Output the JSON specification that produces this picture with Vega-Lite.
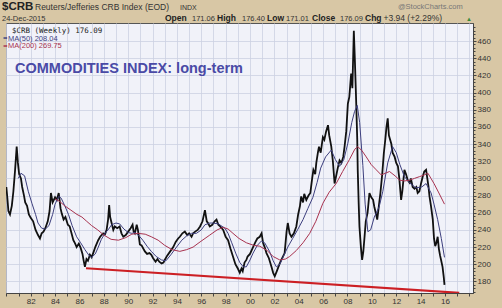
{
  "$schema": "https://vega.github.io/schema/vega-lite/v6.json",
  "width": 467,
  "height": 270,
  "autosize": {"type": "none"},
  "padding": {"left": 6, "top": 23, "right": 29, "bottom": 15},
  "background": "#d8c7a5",
  "view": {"fill": "#f1f2f9", "stroke": "#555555", "strokeWidth": 1},
  "data": {"values": [{}]},
  "config": {
    "font": "Liberation Sans",
    "axis": {"labelFont": "Liberation Sans", "labelColor": "#333333", "labelFontSize": 8, "labelOverlap": false, "tickCount": 200, "domainColor": "#444444", "tickColor": "#444444", "gridColor": "#cdd1e2", "gridWidth": 0.8, "title": null}
  },
  "datasets": {
    "price": [
      {"year":1980.00,"close":290},{"year":1980.08,"close":278},{"year":1980.17,"close":262},{"year":1980.30,"close":258},{"year":1980.45,"close":268},{"year":1980.58,"close":285},{"year":1980.72,"close":310},{"year":1980.85,"close":337},{"year":1980.95,"close":318},
      {"year":1981.05,"close":305},{"year":1981.20,"close":300},{"year":1981.30,"close":290},{"year":1981.45,"close":280},{"year":1981.55,"close":272},{"year":1981.70,"close":268},{"year":1981.85,"close":258},
      {"year":1982.00,"close":254},{"year":1982.20,"close":250},{"year":1982.40,"close":240},{"year":1982.60,"close":234},{"year":1982.76,"close":230},{"year":1982.90,"close":236},
      {"year":1983.05,"close":238},{"year":1983.20,"close":242},{"year":1983.40,"close":250},{"year":1983.55,"close":262},{"year":1983.66,"close":283},{"year":1983.80,"close":272},
      {"year":1984.00,"close":278},{"year":1984.15,"close":275},{"year":1984.30,"close":283},{"year":1984.45,"close":265},{"year":1984.55,"close":259},{"year":1984.70,"close":252},{"year":1984.85,"close":255},
      {"year":1985.05,"close":246},{"year":1985.20,"close":244},{"year":1985.35,"close":236},{"year":1985.50,"close":228},{"year":1985.65,"close":224},{"year":1985.77,"close":220},{"year":1985.95,"close":224},
      {"year":1986.10,"close":219},{"year":1986.25,"close":212},{"year":1986.35,"close":204},{"year":1986.45,"close":197},{"year":1986.58,"close":206},{"year":1986.70,"close":204},{"year":1986.86,"close":211},
      {"year":1987.00,"close":208},{"year":1987.13,"close":213},{"year":1987.30,"close":220},{"year":1987.54,"close":228},{"year":1987.70,"close":232},{"year":1987.95,"close":236},
      {"year":1988.10,"close":235},{"year":1988.23,"close":240},{"year":1988.35,"close":252},{"year":1988.44,"close":269},{"year":1988.52,"close":255},{"year":1988.64,"close":248},{"year":1988.78,"close":240},{"year":1988.90,"close":244},
      {"year":1989.10,"close":242},{"year":1989.30,"close":244},{"year":1989.45,"close":236},{"year":1989.60,"close":232},{"year":1989.80,"close":234},
      {"year":1990.00,"close":238},{"year":1990.20,"close":242},{"year":1990.36,"close":246},{"year":1990.45,"close":238},{"year":1990.55,"close":236},{"year":1990.70,"close":246},{"year":1990.80,"close":240},{"year":1990.96,"close":223},
      {"year":1991.10,"close":222},{"year":1991.25,"close":218},{"year":1991.37,"close":215},{"year":1991.55,"close":212},{"year":1991.75,"close":213},{"year":1991.90,"close":211},
      {"year":1992.05,"close":207},{"year":1992.25,"close":203},{"year":1992.40,"close":206},{"year":1992.55,"close":203},{"year":1992.74,"close":201},{"year":1992.90,"close":202},
      {"year":1993.00,"close":205},{"year":1993.20,"close":210},{"year":1993.45,"close":215},{"year":1993.70,"close":220},{"year":1993.90,"close":226},
      {"year":1994.10,"close":230},{"year":1994.24,"close":232},{"year":1994.45,"close":236},{"year":1994.65,"close":238},{"year":1994.85,"close":234},
      {"year":1995.00,"close":236},{"year":1995.20,"close":232},{"year":1995.33,"close":236},{"year":1995.50,"close":238},{"year":1995.70,"close":240},{"year":1995.90,"close":244},
      {"year":1996.10,"close":250},{"year":1996.30,"close":263},{"year":1996.45,"close":250},{"year":1996.55,"close":248},{"year":1996.70,"close":244},{"year":1996.90,"close":246},
      {"year":1997.10,"close":250},{"year":1997.25,"close":252},{"year":1997.40,"close":246},{"year":1997.55,"close":244},{"year":1997.80,"close":240},
      {"year":1998.00,"close":232},{"year":1998.20,"close":228},{"year":1998.40,"close":218},{"year":1998.60,"close":209},{"year":1998.80,"close":200},
      {"year":1999.00,"close":195},{"year":1999.16,"close":190},{"year":1999.30,"close":195},{"year":1999.40,"close":192},{"year":1999.55,"close":202},{"year":1999.70,"close":205},{"year":1999.80,"close":209},
      {"year":2000.00,"close":212},{"year":2000.25,"close":220},{"year":2000.45,"close":226},{"year":2000.60,"close":230},{"year":2000.80,"close":232},{"year":2000.95,"close":236},
      {"year":2001.07,"close":225},{"year":2001.20,"close":220},{"year":2001.35,"close":213},{"year":2001.55,"close":207},{"year":2001.76,"close":197},{"year":2001.90,"close":190},
      {"year":2002.03,"close":186},{"year":2002.20,"close":192},{"year":2002.44,"close":201},{"year":2002.60,"close":206},{"year":2002.84,"close":213},
      {"year":2003.00,"close":238},{"year":2003.10,"close":248},{"year":2003.25,"close":236},{"year":2003.40,"close":232},{"year":2003.60,"close":236},{"year":2003.80,"close":244},{"year":2003.95,"close":258},
      {"year":2004.10,"close":268},{"year":2004.20,"close":279},{"year":2004.35,"close":272},{"year":2004.45,"close":282},{"year":2004.62,"close":275},{"year":2004.80,"close":280},{"year":2004.95,"close":283},
      {"year":2005.10,"close":300},{"year":2005.20,"close":310},{"year":2005.35,"close":305},{"year":2005.44,"close":318},{"year":2005.57,"close":330},{"year":2005.66,"close":337},{"year":2005.80,"close":330},{"year":2005.98,"close":348},
      {"year":2006.10,"close":345},{"year":2006.25,"close":355},{"year":2006.40,"close":362},{"year":2006.50,"close":350},{"year":2006.67,"close":337},{"year":2006.80,"close":320},{"year":2006.94,"close":294},
      {"year":2007.10,"close":305},{"year":2007.20,"close":312},{"year":2007.35,"close":321},{"year":2007.50,"close":318},{"year":2007.65,"close":325},{"year":2007.76,"close":337},{"year":2007.90,"close":355},
      {"year":2008.03,"close":387},{"year":2008.15,"close":395},{"year":2008.30,"close":422},{"year":2008.40,"close":405},{"year":2008.52,"close":472},{"year":2008.60,"close":440},{"year":2008.70,"close":395},{"year":2008.80,"close":345},{"year":2008.84,"close":310},{"year":2008.92,"close":270},{"year":2008.98,"close":244},
      {"year":2009.10,"close":220},{"year":2009.20,"close":205},{"year":2009.30,"close":215},{"year":2009.40,"close":232},{"year":2009.50,"close":250},{"year":2009.65,"close":260},{"year":2009.80,"close":283},{"year":2009.95,"close":278},
      {"year":2010.10,"close":275},{"year":2010.20,"close":267},{"year":2010.35,"close":258},{"year":2010.44,"close":252},{"year":2010.55,"close":265},{"year":2010.70,"close":283},{"year":2010.85,"close":305},{"year":2010.98,"close":329},
      {"year":2011.10,"close":345},{"year":2011.20,"close":360},{"year":2011.30,"close":370},{"year":2011.40,"close":350},{"year":2011.50,"close":345},{"year":2011.60,"close":340},{"year":2011.70,"close":330},{"year":2011.87,"close":325},
      {"year":2012.00,"close":318},{"year":2012.14,"close":314},{"year":2012.25,"close":300},{"year":2012.40,"close":275},{"year":2012.50,"close":285},{"year":2012.67,"close":310},{"year":2012.80,"close":305},{"year":2012.94,"close":298},
      {"year":2013.10,"close":295},{"year":2013.20,"close":300},{"year":2013.35,"close":290},{"year":2013.50,"close":288},{"year":2013.65,"close":290},{"year":2013.76,"close":283},{"year":2013.90,"close":285},
      {"year":2014.05,"close":295},{"year":2014.17,"close":302},{"year":2014.30,"close":308},{"year":2014.45,"close":310},{"year":2014.55,"close":300},{"year":2014.65,"close":290},{"year":2014.73,"close":279},{"year":2014.85,"close":268},
      {"year":2015.00,"close":252},{"year":2015.10,"close":230},{"year":2015.20,"close":221},{"year":2015.30,"close":225},{"year":2015.40,"close":232},{"year":2015.50,"close":218},{"year":2015.60,"close":210},{"year":2015.68,"close":205},{"year":2015.80,"close":197},{"year":2015.90,"close":185},{"year":2015.96,"close":176}
    ],
    "ma50": [
      {"year":1980.98,"ma":300},{"year":1981.20,"ma":306},{"year":1981.50,"ma":303},{"year":1981.80,"ma":285},{"year":1982.10,"ma":271},{"year":1982.40,"ma":258},{"year":1982.60,"ma":248},{"year":1982.90,"ma":242},
      {"year":1983.20,"ma":241},{"year":1983.50,"ma":245},{"year":1983.80,"ma":258},{"year":1984.00,"ma":270},{"year":1984.30,"ma":279},{"year":1984.50,"ma":277},{"year":1984.80,"ma":268},
      {"year":1985.10,"ma":258},{"year":1985.40,"ma":245},{"year":1985.77,"ma":232},{"year":1986.10,"ma":225},{"year":1986.45,"ma":217},{"year":1986.80,"ma":210},{"year":1987.00,"ma":208},
      {"year":1987.30,"ma":212},{"year":1987.55,"ma":220},{"year":1987.80,"ma":229},{"year":1988.10,"ma":236},{"year":1988.40,"ma":241},{"year":1988.64,"ma":246},{"year":1989.00,"ma":248},
      {"year":1989.30,"ma":247},{"year":1989.65,"ma":241},{"year":1990.00,"ma":237},{"year":1990.30,"ma":236},{"year":1990.55,"ma":237},{"year":1990.90,"ma":233},{"year":1991.20,"ma":228},
      {"year":1991.55,"ma":221},{"year":1991.90,"ma":215},{"year":1992.30,"ma":209},{"year":1992.74,"ma":205},{"year":1993.10,"ma":204},{"year":1993.50,"ma":211},{"year":1993.97,"ma":220},
      {"year":1994.40,"ma":228},{"year":1994.80,"ma":233},{"year":1995.20,"ma":236},{"year":1995.60,"ma":236},{"year":1996.00,"ma":240},{"year":1996.30,"ma":246},{"year":1996.70,"ma":248},
      {"year":1996.97,"ma":248},{"year":1997.40,"ma":247},{"year":1997.93,"ma":242},{"year":1998.20,"ma":236},{"year":1998.50,"ma":225},{"year":1998.85,"ma":212},{"year":1999.16,"ma":202},
      {"year":1999.45,"ma":197},{"year":1999.70,"ma":197},{"year":2000.00,"ma":205},{"year":2000.25,"ma":213},{"year":2000.60,"ma":222},{"year":2000.93,"ma":227},{"year":2001.20,"ma":225},
      {"year":2001.60,"ma":215},{"year":2001.90,"ma":204},{"year":2002.16,"ma":197},{"year":2002.45,"ma":200},{"year":2002.70,"ma":208},{"year":2003.10,"ma":220},{"year":2003.50,"ma":230},
      {"year":2003.90,"ma":240},{"year":2004.35,"ma":252},{"year":2004.75,"ma":265},{"year":2005.16,"ma":278},{"year":2005.50,"ma":295},{"year":2005.80,"ma":312},{"year":2006.20,"ma":325},
      {"year":2006.67,"ma":333},{"year":2007.00,"ma":322},{"year":2007.35,"ma":314},{"year":2007.70,"ma":322},{"year":2008.03,"ma":341},{"year":2008.35,"ma":365},{"year":2008.58,"ma":378},
      {"year":2008.80,"ma":385},{"year":2009.00,"ma":365},{"year":2009.26,"ma":315},{"year":2009.45,"ma":270},{"year":2009.67,"ma":238},{"year":2009.90,"ma":240},{"year":2010.20,"ma":255},
      {"year":2010.60,"ma":267},{"year":2010.90,"ma":285},{"year":2011.30,"ma":318},{"year":2011.70,"ma":337},{"year":2012.00,"ma":330},{"year":2012.30,"ma":316},{"year":2012.67,"ma":302},
      {"year":2013.10,"ma":295},{"year":2013.60,"ma":289},{"year":2014.10,"ma":290},{"year":2014.45,"ma":294},{"year":2014.86,"ma":283},{"year":2015.10,"ma":270},{"year":2015.40,"ma":252},
      {"year":2015.70,"ma":230},{"year":2015.96,"ma":208}
    ],
    "ma200": [
      {"year":1984.00,"ma":276},{"year":1984.30,"ma":274},{"year":1984.80,"ma":268},{"year":1985.30,"ma":263},{"year":1985.80,"ma":258},{"year":1986.20,"ma":255},{"year":1986.60,"ma":250},
      {"year":1987.00,"ma":245},{"year":1987.50,"ma":240},{"year":1988.00,"ma":234},{"year":1988.60,"ma":229},{"year":1989.20,"ma":228},{"year":1989.80,"ma":231},{"year":1990.30,"ma":235},
      {"year":1990.80,"ma":236},{"year":1991.40,"ma":235},{"year":1991.90,"ma":232},{"year":1992.46,"ma":228},{"year":1993.00,"ma":222},{"year":1993.60,"ma":217},{"year":1994.24,"ma":215},
      {"year":1994.80,"ma":217},{"year":1995.33,"ma":220},{"year":1995.90,"ma":226},{"year":1996.70,"ma":234},{"year":1997.30,"ma":240},{"year":1997.80,"ma":243},{"year":1998.20,"ma":241},
      {"year":1998.60,"ma":236},{"year":1999.10,"ma":230},{"year":1999.70,"ma":225},{"year":2000.30,"ma":222},{"year":2000.80,"ma":221},{"year":2001.40,"ma":216},{"year":2001.90,"ma":209},
      {"year":2002.44,"ma":205},{"year":2002.90,"ma":206},{"year":2003.25,"ma":209},{"year":2003.80,"ma":216},{"year":2004.35,"ma":225},{"year":2004.90,"ma":236},{"year":2005.40,"ma":250},
      {"year":2005.98,"ma":271},{"year":2006.50,"ma":284},{"year":2007.07,"ma":294},{"year":2007.60,"ma":308},{"year":2008.16,"ma":322},{"year":2008.60,"ma":334},{"year":2008.85,"ma":337},
      {"year":2009.20,"ma":332},{"year":2009.54,"ma":325},{"year":2009.95,"ma":316},{"year":2010.36,"ma":310},{"year":2010.77,"ma":304},{"year":2011.10,"ma":306},{"year":2011.45,"ma":308},
      {"year":2011.90,"ma":303},{"year":2012.27,"ma":298},{"year":2012.70,"ma":297},{"year":2013.10,"ma":298},{"year":2013.50,"ma":300},{"year":2013.90,"ma":302},{"year":2014.30,"ma":304},
      {"year":2014.60,"ma":306},{"year":2014.85,"ma":300},{"year":2015.10,"ma":294},{"year":2015.50,"ma":283},{"year":2015.96,"ma":270}
    ],
    "trend": [
      {"year":1986.54,"level":195.3},{"year":2017.17,"level":166.7}
    ]
  },
  "resolve": {"axis": {"y": "independent"}},
  "layer": [
    {
      "layer": [
        {
          "data": {"name": "price"},
          "mark": {"type": "line", "color": "#111111", "strokeWidth": 1.8, "clip": true},
          "encoding": {
            "x": {"field": "year", "type": "quantitative",
              "scale": {"domain": [1979.973, 2018.3], "nice": false, "zero": false},
              "axis": {"values": [1980,1981,1982,1983,1984,1985,1986,1987,1988,1989,1990,1991,1992,1993,1994,1995,1996,1997,1998,1999,2000,2001,2002,2003,2004,2005,2006,2007,2008,2009,2010,2011,2012,2013,2014,2015,2016,2017,2018],
                "labelExpr": "datum.value % 2 == 0 && datum.value >= 1982 && datum.value <= 2016 ? format(datum.value % 100, '02d') : ''",
                "grid": true, "tickSize": 3, "labelPadding": 1, "domain": true}},
            "y": {"field": "close", "type": "quantitative",
              "scale": {"domain": [166.5, 481], "nice": false, "zero": false},
              "axis": {"orient": "right", "values": [180,200,220,240,260,280,300,320,340,360,380,400,420,440,460],
                "grid": true, "tickSize": 3, "labelPadding": 1}}
          }
        },
        {
          "data": {"name": "ma50"},
          "mark": {"type": "line", "color": "#3d3f7e", "strokeWidth": 1, "clip": true},
          "encoding": {"x": {"field": "year", "type": "quantitative"}, "y": {"field": "ma", "type": "quantitative"}}
        },
        {
          "data": {"name": "ma200"},
          "mark": {"type": "line", "color": "#a8324f", "strokeWidth": 1, "clip": true},
          "encoding": {"x": {"field": "year", "type": "quantitative"}, "y": {"field": "ma", "type": "quantitative"}}
        },
        {
          "data": {"name": "trend"},
          "mark": {"type": "line", "color": "#cc1f24", "strokeWidth": 2.2, "clip": true},
          "encoding": {"x": {"field": "year", "type": "quantitative"}, "y": {"field": "level", "type": "quantitative"}}
        },
        {"mark": {"type": "text", "align": "left", "baseline": "alphabetic", "fontSize": 11.5, "fontWeight": "bold", "color": "#222222"},
          "encoding": {"x": {"datum": 1979.645}, "y": {"datum": 495.6}, "text": {"value": "$CRB"}}},
        {"mark": {"type": "text", "align": "left", "baseline": "alphabetic", "fontSize": 8.5, "color": "#333333"},
          "encoding": {"x": {"datum": 1982.353}, "y": {"datum": 495.6}, "text": {"value": "Reuters/Jefferies CRB Index (EOD)"}}},
        {"mark": {"type": "text", "align": "left", "baseline": "alphabetic", "fontSize": 7, "color": "#333333"},
          "encoding": {"x": {"datum": 1994.253}, "y": {"datum": 495.6}, "text": {"value": "INDX"}}},
        {"mark": {"type": "text", "align": "left", "baseline": "alphabetic", "fontSize": 7.5, "color": "#333333"},
          "encoding": {"x": {"datum": 1979.645}, "y": {"datum": 483.3}, "text": {"value": "24-Dec-2015"}}},
        {"mark": {"type": "text", "align": "left", "baseline": "alphabetic", "fontSize": 7.5, "color": "#777777"},
          "encoding": {"x": {"datum": 2012.143}, "y": {"datum": 497.3}, "text": {"value": "@StockCharts.com"}}},
        {"mark": {"type": "text", "align": "left", "baseline": "alphabetic", "fontSize": 8.5, "fontWeight": "bold", "color": "#222222"},
          "encoding": {"x": {"datum": 1993.022}, "y": {"datum": 483.7}, "text": {"value": "Open"}}},
        {"mark": {"type": "text", "align": "left", "baseline": "alphabetic", "fontSize": 7.5, "color": "#333333"},
          "encoding": {"x": {"datum": 1995.237}, "y": {"datum": 483.7}, "text": {"value": "171.06"}}},
        {"mark": {"type": "text", "align": "left", "baseline": "alphabetic", "fontSize": 8.5, "fontWeight": "bold", "color": "#222222"},
          "encoding": {"x": {"datum": 1997.289}, "y": {"datum": 483.7}, "text": {"value": "High"}}},
        {"mark": {"type": "text", "align": "left", "baseline": "alphabetic", "fontSize": 7.5, "color": "#333333"},
          "encoding": {"x": {"datum": 1999.341}, "y": {"datum": 483.7}, "text": {"value": "176.40"}}},
        {"mark": {"type": "text", "align": "left", "baseline": "alphabetic", "fontSize": 8.5, "fontWeight": "bold", "color": "#222222"},
          "encoding": {"x": {"datum": 2001.393}, "y": {"datum": 483.7}, "text": {"value": "Low"}}},
        {"mark": {"type": "text", "align": "left", "baseline": "alphabetic", "fontSize": 7.5, "color": "#333333"},
          "encoding": {"x": {"datum": 2002.95}, "y": {"datum": 483.7}, "text": {"value": "171.01"}}},
        {"mark": {"type": "text", "align": "left", "baseline": "alphabetic", "fontSize": 8.5, "fontWeight": "bold", "color": "#222222"},
          "encoding": {"x": {"datum": 2005.086}, "y": {"datum": 483.7}, "text": {"value": "Close"}}},
        {"mark": {"type": "text", "align": "left", "baseline": "alphabetic", "fontSize": 7.5, "color": "#333333"},
          "encoding": {"x": {"datum": 2007.384}, "y": {"datum": 483.7}, "text": {"value": "176.09"}}},
        {"mark": {"type": "text", "align": "left", "baseline": "alphabetic", "fontSize": 8.5, "fontWeight": "bold", "color": "#222222"},
          "encoding": {"x": {"datum": 2009.436}, "y": {"datum": 483.7}, "text": {"value": "Chg"}}},
        {"mark": {"type": "text", "align": "left", "baseline": "alphabetic", "fontSize": 8.5, "color": "#333333"},
          "encoding": {"x": {"datum": 2010.95}, "y": {"datum": 483.7}, "text": {"value": "+3.94 (+2.29%)"}}},
        {"mark": {"type": "text", "align": "left", "baseline": "alphabetic", "fontSize": 6, "color": "#3b8a3b"},
          "encoding": {"x": {"datum": 2017.725}, "y": {"datum": 483.7}, "text": {"value": "▲"}}},
        {"mark": {"type": "text", "align": "left", "baseline": "alphabetic", "fontSize": 7.5, "font": "DejaVu Sans Mono", "color": "#222222"},
          "encoding": {"x": {"datum": 1980.465}, "y": {"datum": 469.35}, "text": {"value": "$CRB (Weekly) 176.09"}}},
        {"mark": {"type": "text", "align": "left", "baseline": "alphabetic", "fontSize": 7.5, "color": "#3d3f7e"},
          "encoding": {"x": {"datum": 1980.137}, "y": {"datum": 460.6}, "text": {"value": "MA(50) 208.04"}}},
        {"mark": {"type": "text", "align": "left", "baseline": "alphabetic", "fontSize": 7.5, "color": "#a8324f"},
          "encoding": {"x": {"datum": 1980.137}, "y": {"datum": 451.3}, "text": {"value": "MA(200) 269.75"}}},
        {"mark": {"type": "rule", "color": "#3d3f7e", "strokeWidth": 1.5},
          "encoding": {"x": {"datum": 1979.77}, "x2": {"datum": 1980.07}, "y": {"datum": 463.5}}},
        {"mark": {"type": "rule", "color": "#a8324f", "strokeWidth": 1.5},
          "encoding": {"x": {"datum": 1979.77}, "x2": {"datum": 1980.07}, "y": {"datum": 454.2}}},
        {"mark": {"type": "text", "align": "left", "baseline": "alphabetic", "fontSize": 14.5, "fontWeight": "bold", "color": "#4a4aa6"},
          "encoding": {"x": {"datum": 1980.712}, "y": {"datum": 422.8}, "text": {"value": "COMMODITIES INDEX: long-term"}}}
      ]
    },
    {
      "data": {"name": "trend"},
      "mark": {"type": "line", "opacity": 0, "clip": true},
      "encoding": {
        "x": {"field": "year", "type": "quantitative"},
        "y": {"field": "level", "type": "quantitative",
          "axis": {"orient": "right", "values": [168,172,176,184,188,192,196,204,208,212,216,224,228,232,236,244,248,252,256,264,268,272,276,284,288,292,296,304,308,312,316,324,328,332,336,344,348,352,356,364,368,372,376,384,388,392,396,404,408,412,416,424,428,432,436,444,448,452,456,464,468,472,476],
            "labels": false, "grid": false, "domain": false, "tickSize": 2}}
      }
    }
  ]
}
